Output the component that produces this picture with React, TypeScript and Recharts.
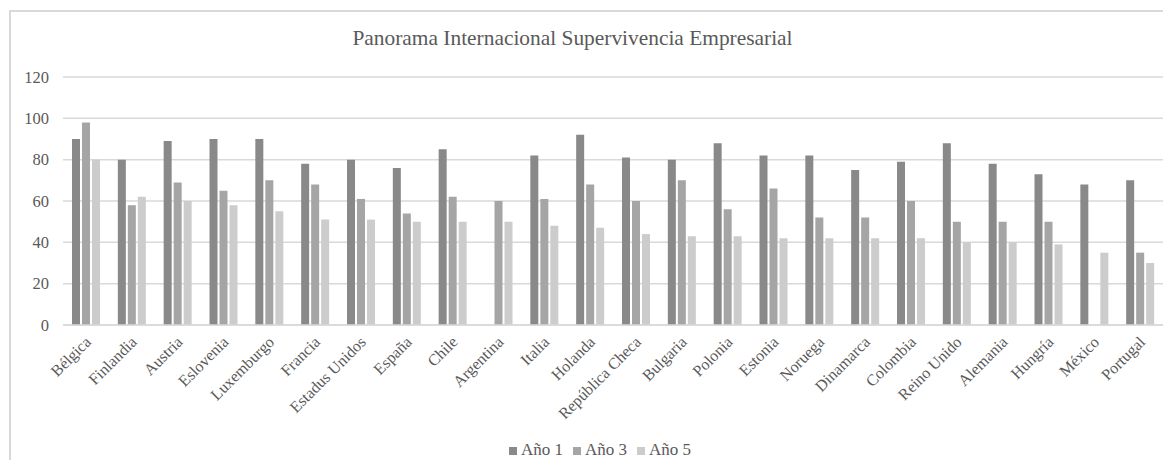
import { BarChart, Bar, XAxis, YAxis, CartesianGrid, Legend } from "recharts";

const countries = [
  "Bélgica", "Finlandia", "Austria", "Eslovenia", "Luxemburgo", "Francia",
  "Estadus Unidos", "España", "Chile", "Argentina", "Italia", "Holanda",
  "República Checa", "Bulgaria", "Polonia", "Estonia", "Noruega", "Dinamarca",
  "Colombia", "Reino Unido", "Alemania", "Hungría", "México", "Portugal",
];

const year1 = [90, 80, 89, 90, 90, 78, 80, 76, 85, null, 82, 92, 81, 80, 88, 82, 82, 75, 79, 88, 78, 73, 68, 70];
const year3 = [98, 58, 69, 65, 70, 68, 61, 54, 62, 60, 61, 68, 60, 70, 56, 66, 52, 52, 60, 50, 50, 50, null, 35];
const year5 = [80, 62, 60, 58, 55, 51, 51, 50, 50, 50, 48, 47, 44, 43, 43, 42, 42, 42, 42, 40, 40, 39, 35, 30];

const yTicks = [0, 20, 40, 60, 80, 100, 120];

const data = countries.map((name, i) => ({
  name,
  a1: year1[i],
  a3: year3[i],
  a5: year5[i],
}));

const FONT = "'Liberation Serif', 'Times New Roman', serif";
const TEXT = "#595959";
const LINE = "#d9d9d9";

// rotated category label, end of text sits just below-right of the tick
function CountryTick({ x, y, payload }: any) {
  const ax = x + 6;
  const ay = y + 18;
  return (
    <text
      x={ax}
      y={ay}
      textAnchor="end"
      transform={`rotate(-45 ${ax} ${ay})`}
      fontFamily={FONT}
      fontSize={16}
      fill={TEXT}
    >
      {payload.value}
    </text>
  );
}

function ValueTick({ x, y, payload }: any) {
  return (
    <text
      x={x}
      y={y}
      dy="0.35em"
      textAnchor="end"
      fontFamily={FONT}
      fontSize={16.5}
      fill={TEXT}
    >
      {payload.value}
    </text>
  );
}

export default function App() {
  return (
    <div
      style={{
        position: "relative",
        left: 1,
        top: 2,
        width: 1162,
        height: 452,
        boxSizing: "border-box",
        borderLeft: `2px solid ${LINE}`,
        borderTop: `2px solid ${LINE}`,
        fontFamily: FONT,
      }}
    >
      <div
        style={{
          position: "absolute",
          left: 0,
          top: 14,
          width: 1123,
          textAlign: "center",
          fontSize: 21.4,
          color: TEXT,
          lineHeight: "24px",
        }}
      >
        Panorama Internacional Supervivencia Empresarial
      </div>
      <BarChart
        width={1160}
        height={450}
        data={data}
        margin={{ top: 65, right: 8, bottom: 2, left: 0 }}
        barSize={8}
        barGap={2}
      >
        <CartesianGrid vertical={false} stroke={LINE} strokeWidth={1.5} />
        <XAxis
          dataKey="name"
          interval={0}
          height={115}
          tickLine={false}
          tickSize={0}
          tickMargin={0}
          axisLine={{ stroke: LINE, strokeWidth: 1.5 }}
          tick={<CountryTick />}
        />
        <YAxis
          domain={[0, 120]}
          ticks={yTicks}
          width={52}
          axisLine={false}
          tickLine={false}
          tickSize={0}
          tickMargin={14}
          tick={<ValueTick />}
        />
        <Legend
          verticalAlign="bottom"
          iconType="square"
          iconSize={8}
          wrapperStyle={{ lineHeight: "20px", fontSize: 17, fontFamily: FONT, left: 18 }}
          formatter={(value) => <span style={{ color: TEXT }}>{value}</span>}
        />
        <Bar dataKey="a1" name="Año 1" fill="#898989" isAnimationActive={false} />
        <Bar dataKey="a3" name="Año 3" fill="#a5a5a5" isAnimationActive={false} />
        <Bar dataKey="a5" name="Año 5" fill="#cccccc" isAnimationActive={false} />
      </BarChart>
    </div>
  );
}
